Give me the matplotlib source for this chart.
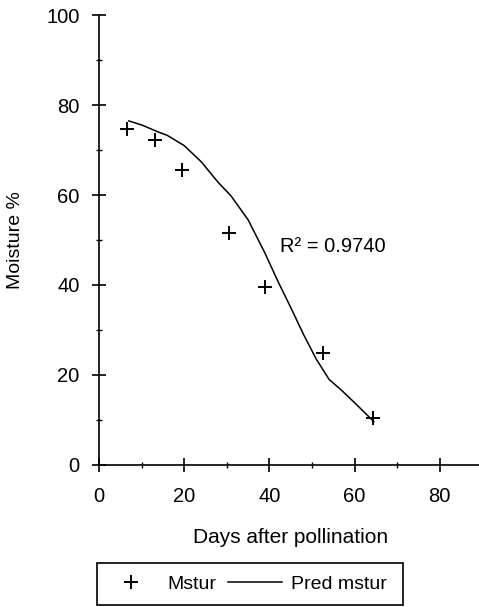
import matplotlib
matplotlib.use("Agg")
import matplotlib.pyplot as plt
from matplotlib.ticker import MultipleLocator
from matplotlib.patches import Rectangle

plt.rcParams['font.family'] = ['Liberation Sans', 'DejaVu Sans']

# observed moisture
days = [6.5, 13.2, 19.4, 30.5, 39.0, 52.5, 64.4]
mstur = [74.8, 72.2, 65.6, 51.6, 39.6, 24.8, 10.5]

# fitted curve
pred_days = [7, 10, 14, 16, 20, 24, 28, 31, 35, 39, 42, 45, 48, 51, 54, 57, 60, 64.5]
pred_mstur = [76.5, 75.6, 74.0, 73.3, 71.0, 67.4, 62.8, 59.8, 54.5, 47.0,
              40.8, 35.0, 29.0, 23.5, 19.0, 16.5, 13.8, 9.6]

r2_text = "R\u00b2 = 0.9740"

W, H = 479, 607
fig = plt.figure(figsize=(W / 100, H / 100), dpi=100)
ax = fig.add_axes([0.2067, 0.2344, 0.8004, 0.7404])

ax.plot(days, mstur, linestyle='none', marker='+', color='black',
        markersize=10, markeredgewidth=1.4, label='Mstur', clip_on=False)
ax.plot(pred_days, pred_mstur, color='black', linewidth=1.1, label='Pred mstur')

ax.set_xlim(0, 90)
ax.set_ylim(0, 100)
ax.xaxis.set_minor_locator(MultipleLocator(10))
ax.yaxis.set_major_locator(MultipleLocator(20))
ax.yaxis.set_minor_locator(MultipleLocator(10))
ax.set_xticks([0, 20, 40, 60, 80])

for s in ['top', 'right']:
    ax.spines[s].set_visible(False)
for s in ['left', 'bottom']:
    ax.spines[s].set_linewidth(1.2)

ax.tick_params(which='major', direction='inout', length=10, width=1.2,
               labelsize=14.5)
ax.tick_params(which='minor', direction='inout', length=4, width=1.0)
ax.tick_params(axis='x', pad=11)
ax.tick_params(axis='y', pad=9)

ax.set_xlabel('Days after pollination', fontsize=15, labelpad=16)
ax.set_ylabel('Moisture %', fontsize=14, labelpad=16)

ax.text(42.5, 48.6, r2_text, fontsize=14.5, va='center', ha='left')

# legend box below the plot
fig.patches.append(Rectangle((97 / W, 1 - 605 / H), 306 / W, 42 / H,
                             transform=fig.transFigure, fill=False,
                             edgecolor='black', linewidth=1.2))
fig.legend(loc='center left', bbox_to_anchor=(97 / W, 1 - 584 / H),
           ncol=2, fontsize=14, frameon=False, handlelength=2.8,
           columnspacing=0.6, handletextpad=0.45, borderpad=0.35,
           borderaxespad=0.0)

fig.savefig('out.png', dpi=100)
